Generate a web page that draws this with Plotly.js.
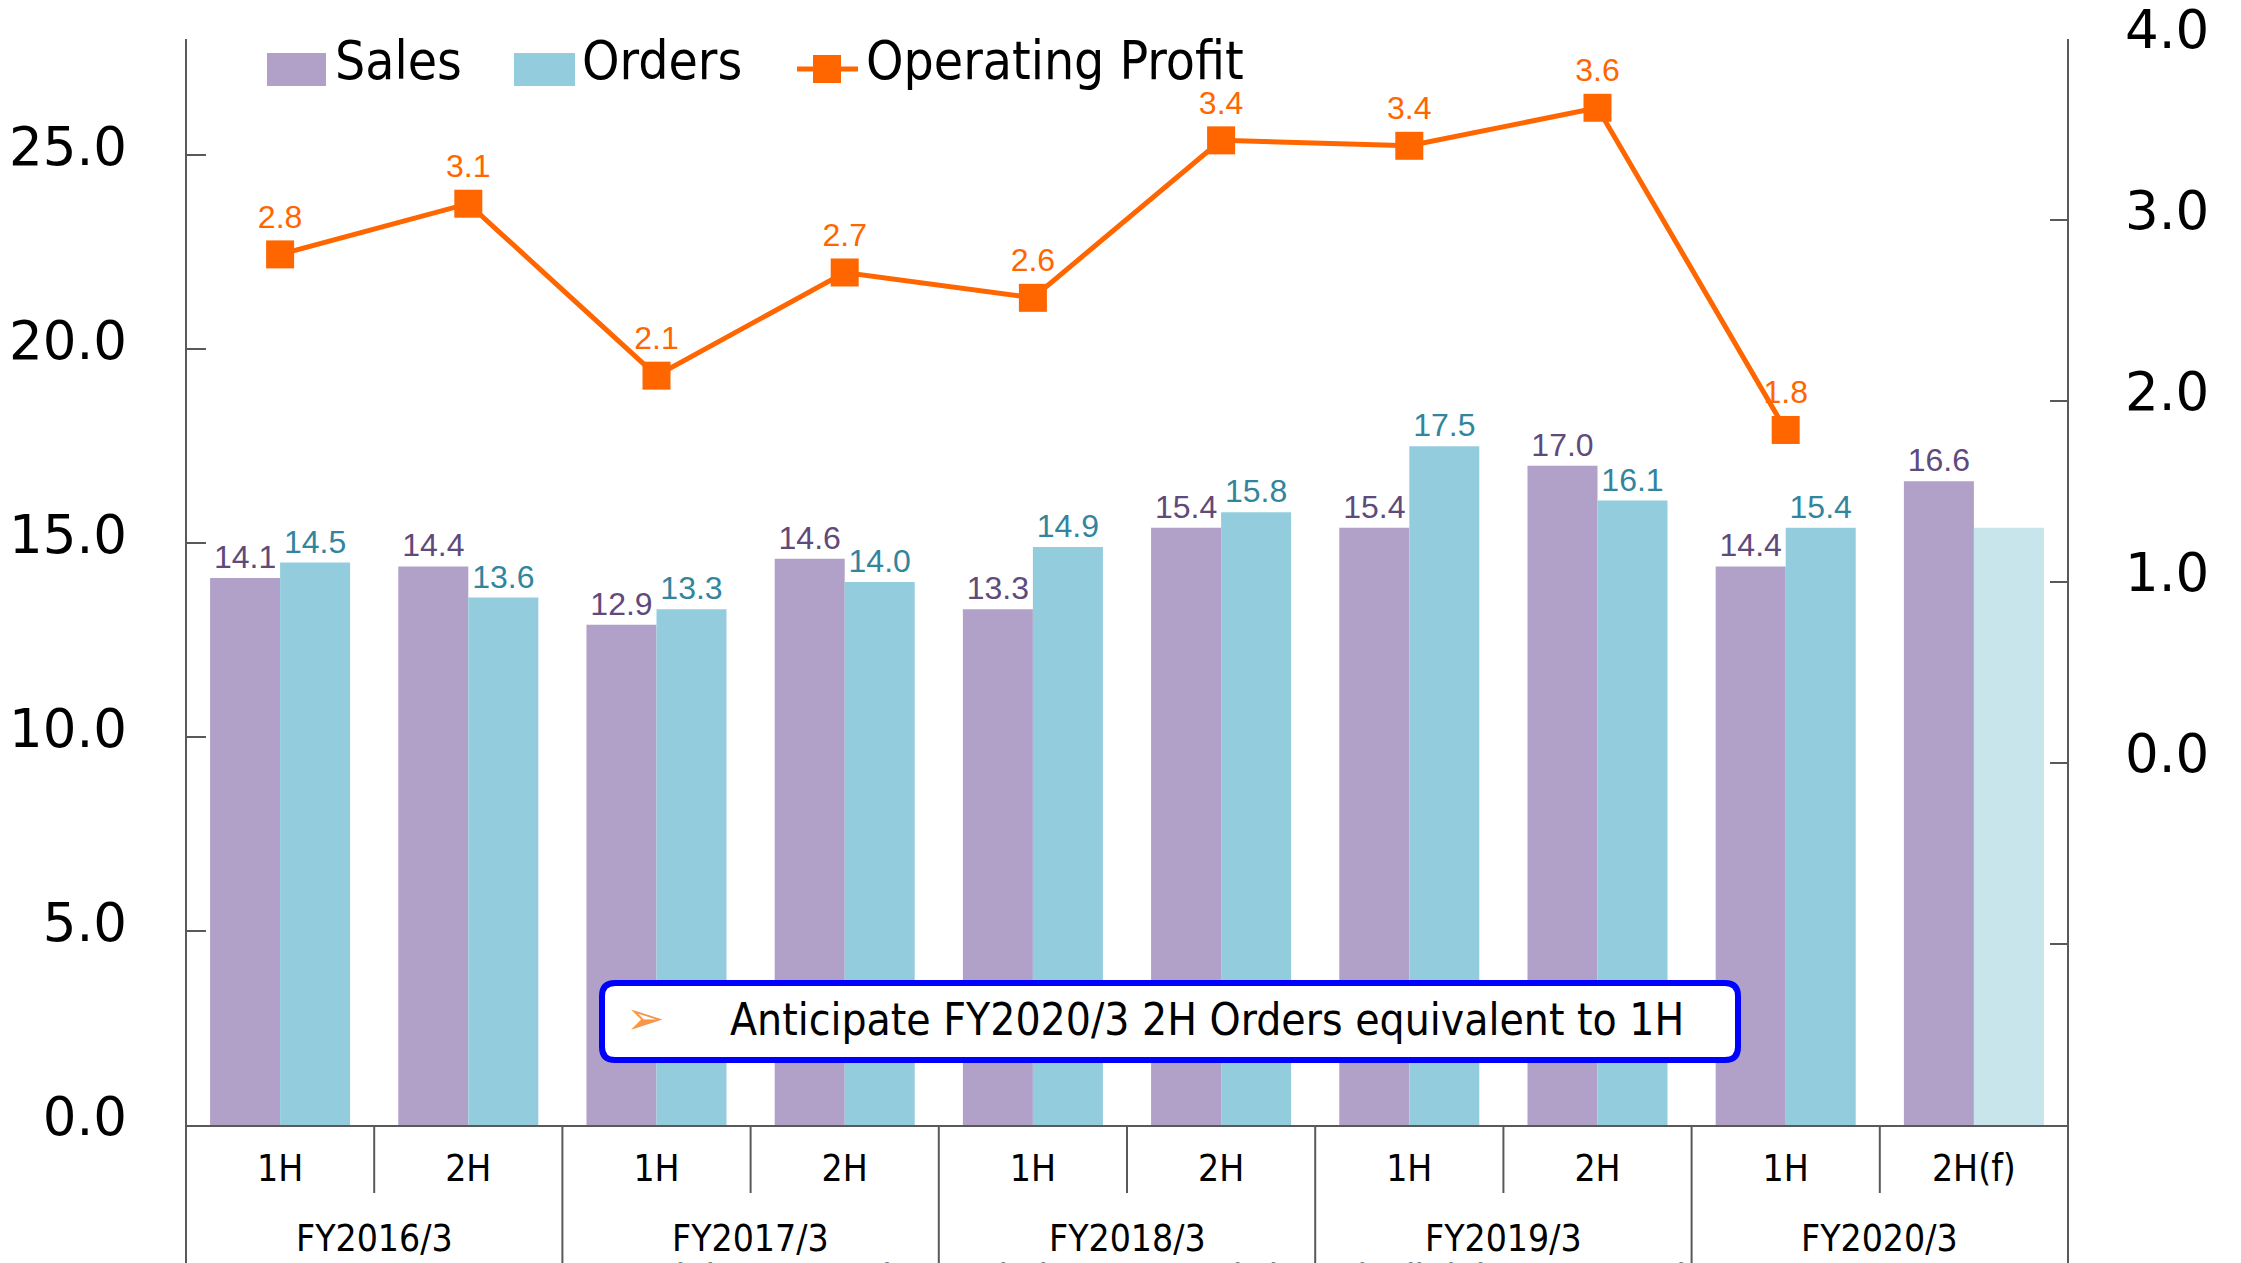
<!DOCTYPE html>
<html>
<head>
<meta charset="utf-8">
<script src="https://cdn.plot.ly/plotly-3.0.1.min.js"></script>
<style>
  html, body { margin: 0; padding: 0; background: #ffffff; }
  #chart { width: 2241px; height: 1263px; }
</style>
</head>
<body>
<div id="chart"></div>
<script>
// ---- data ----
const halves = ['1H', '2H', '1H', '2H', '1H', '2H', '1H', '2H', '1H', '2H(f)'];
const fiscalYears = ['FY2016/3', 'FY2017/3', 'FY2018/3', 'FY2019/3', 'FY2020/3'];
const sales = [14.1, 14.4, 12.9, 14.6, 13.3, 15.4, 15.4, 17.0, 14.4, 16.6];
const orders = [14.5, 13.6, 13.3, 14.0, 14.9, 15.8, 17.5, 16.1, 15.4, 15.4];
const operatingProfit = [2.81, 3.09, 2.14, 2.71, 2.57, 3.44, 3.41, 3.62, 1.84, null];
const leftTicks = [0, 5, 10, 15, 20, 25];
const rightTicks = [-2, -1, 0, 1, 2, 3, 4];
const seriesNames = ['Sales', 'Orders', 'Operating Profit'];
const noteText = 'Anticipate FY2020/3 2H Orders equivalent to 1H';
const footerText = 'Copyright 2019 Tokyo Seimitsu Co., Ltd. (7729) All rights reserved.';

// ---- style ----
const W = 2241, H = 1263;
const M = { l: 186, r: 173, t: 39, b: 138 };
const PW = W - M.l - M.r, PH = H - M.t - M.b;
const px2x = p => (p - M.l) / PW;
const py2y = p => (H - M.b - p) / PH;

const SALES_C = '#B1A0C7', ORDERS_C = '#93CDDD', ORDERS_F_C = '#C9E5EC', PROFIT_C = '#FF6600';
const NARROW = '"Liberation Sans Narrow", "Arial Narrow", "DejaVu Sans Condensed", sans-serif';
const AXISF = '"DejaVu Sans", Verdana, sans-serif';
const LABF = '"Liberation Sans", Arial, sans-serif';
const LINE_C = '#595959';

const idx = halves.map((_, i) => i);
const isForecast = halves.map(h => h.indexOf('(f)') >= 0);

const traces = [
  {
    type: 'bar', name: seriesNames[0], x: idx, y: sales,
    marker: { color: SALES_C },
    text: sales.map(v => v.toFixed(1)), textposition: 'outside',
    textfont: { family: LABF, size: 32, color: '#604A7B' },
    constraintext: 'none', cliponaxis: false, hoverinfo: 'skip'
  },
  {
    type: 'bar', name: seriesNames[1], x: idx, y: orders,
    marker: { color: isForecast.map(f => f ? ORDERS_F_C : ORDERS_C) },
    text: orders.map((v, i) => isForecast[i] ? '' : v.toFixed(1)), textposition: 'outside',
    textfont: { family: LABF, size: 32, color: '#31859C' },
    constraintext: 'none', cliponaxis: false, hoverinfo: 'skip'
  },
  {
    type: 'scatter', mode: 'lines+markers+text', name: seriesNames[2],
    x: idx, y: operatingProfit, yaxis: 'y2',
    line: { color: PROFIT_C, width: 5 },
    marker: { symbol: 'square', size: 28, color: PROFIT_C },
    texttemplate: '%{y:.1f}', textposition: 'top center',
    textfont: { family: LABF, size: 32, color: PROFIT_C },
    cliponaxis: false, connectgaps: false, hoverinfo: 'skip'
  }
];

const shapes = [];
const annotations = [];

// axis lines extending into the bottom label area
shapes.push({ type: 'line', xref: 'paper', yref: 'paper', x0: 0, x1: 0, y0: py2y(H), y1: 1, line: { color: LINE_C, width: 2 } });
shapes.push({ type: 'line', xref: 'paper', yref: 'paper', x0: 1, x1: 1, y0: py2y(H), y1: 1, line: { color: LINE_C, width: 2 } });

// category dividers below the axis
for (let i = 0; i < halves.length - 1; i++) {
  const groupEnd = (i % 2 === 1);
  shapes.push({
    type: 'line', xref: 'x', yref: 'paper', x0: i + 0.5, x1: i + 0.5,
    y0: 0, y1: groupEnd ? py2y(H) : py2y(1193),
    line: { color: LINE_C, width: 2 }
  });
}

// fiscal year labels
fiscalYears.forEach((fy, k) => {
  annotations.push({
    xref: 'x', yref: 'paper', x: 2 * k + 0.5, y: py2y(1238), text: fy, showarrow: false,
    xanchor: 'center', yanchor: 'middle', font: { family: NARROW, size: 37, color: '#000000' }
  });
});

// custom legend
const legY = 69;
shapes.push({ type: 'rect', xref: 'paper', yref: 'paper', x0: px2x(267), x1: px2x(326), y0: py2y(86), y1: py2y(53), fillcolor: SALES_C, line: { width: 0 } });
shapes.push({ type: 'rect', xref: 'paper', yref: 'paper', x0: px2x(514), x1: px2x(575), y0: py2y(86), y1: py2y(53), fillcolor: ORDERS_C, line: { width: 0 } });
shapes.push({ type: 'line', xref: 'paper', yref: 'paper', x0: px2x(797), x1: px2x(858), y0: py2y(legY), y1: py2y(legY), line: { color: PROFIT_C, width: 5 } });
shapes.push({ type: 'rect', xref: 'paper', yref: 'paper', x0: px2x(813), x1: px2x(841), y0: py2y(legY + 14), y1: py2y(legY - 14), fillcolor: PROFIT_C, line: { width: 0 } });
[[333, seriesNames[0]], [580, seriesNames[1]], [864, seriesNames[2]]].forEach(([p, t]) => {
  annotations.push({
    xref: 'paper', yref: 'paper', x: px2x(p), y: py2y(61), text: t, showarrow: false,
    xanchor: 'left', yanchor: 'middle', font: { family: NARROW, size: 53, color: '#000000' }
  });
});

// note box (rounded rectangle)
(function () {
  const x0 = 602, x1 = 1738, y0 = 983, y1 = 1060, r = 13;
  const P = (a, b) => px2x(a) + ',' + py2y(b);
  const path = 'M' + P(x0 + r, y0) + ' L' + P(x1 - r, y0) + ' Q' + P(x1, y0) + ' ' + P(x1, y0 + r) +
    ' L' + P(x1, y1 - r) + ' Q' + P(x1, y1) + ' ' + P(x1 - r, y1) +
    ' L' + P(x0 + r, y1) + ' Q' + P(x0, y1) + ' ' + P(x0, y1 - r) +
    ' L' + P(x0, y0 + r) + ' Q' + P(x0, y0) + ' ' + P(x0 + r, y0) + ' Z';
  shapes.push({ type: 'path', xref: 'paper', yref: 'paper', path: path, fillcolor: '#FFFFFF', line: { color: '#0000FF', width: 6 }, layer: 'above' });
  annotations.push({
    xref: 'paper', yref: 'paper', x: px2x(645), y: py2y(1018), text: '➢', showarrow: false,
    xanchor: 'center', yanchor: 'middle', font: { family: AXISF, size: 46, color: '#F79646' }
  });
  annotations.push({
    xref: 'paper', yref: 'paper', x: px2x(728), y: py2y(1019), text: noteText, showarrow: false,
    xanchor: 'left', yanchor: 'middle', font: { family: NARROW, size: 44, color: '#000000' }
  });
})();

// footer (cut by the page edge, as in the reference)
annotations.push({
  xref: 'paper', yref: 'paper', x: px2x(1135), y: py2y(1254), text: footerText, showarrow: false,
  xanchor: 'center', yanchor: 'top', font: { family: LABF, size: 38, color: '#7F7F7F' }
});

const layout = {
  width: W, height: H,
  margin: M,
  paper_bgcolor: '#FFFFFF', plot_bgcolor: '#FFFFFF',
  showlegend: false,
  barmode: 'group', bargap: 0.256, bargroupgap: 0,
  xaxis: {
    range: [-0.5, halves.length - 0.5], tickvals: idx, ticktext: halves,
    tickfont: { family: NARROW, size: 37, color: '#000000' },
    ticks: '', showgrid: false, zeroline: false,
    showline: true, linecolor: LINE_C, linewidth: 2,
    ticklabelstandoff: 10, fixedrange: true
  },
  yaxis: {
    range: [0, 28], tickvals: leftTicks, ticktext: leftTicks.map(v => v.toFixed(1)),
    tickfont: { family: AXISF, size: 53, color: '#000000' },
    ticks: 'inside', ticklen: 20, tickwidth: 2, tickcolor: LINE_C,
    showgrid: false, zeroline: false, showline: false,
    ticklabelstandoff: 58, ticklabelshift: -9, ticklabeloverflow: 'allow'
  },
  yaxis2: {
    overlaying: 'y', side: 'right', range: [-2, 4],
    tickvals: rightTicks, ticktext: rightTicks.map(v => v >= 0 ? v.toFixed(1) : ''),
    tickfont: { family: AXISF, size: 53, color: '#000000' },
    ticks: 'inside', ticklen: 18, tickwidth: 2, tickcolor: LINE_C,
    showgrid: false, zeroline: false, showline: false,
    ticklabelstandoff: 56, ticklabelshift: -10, ticklabeloverflow: 'allow'
  },
  shapes: shapes,
  annotations: annotations
};

Plotly.newPlot('chart', traces, layout, { staticPlot: true, displayModeBar: false });
</script>
</body>
</html>
